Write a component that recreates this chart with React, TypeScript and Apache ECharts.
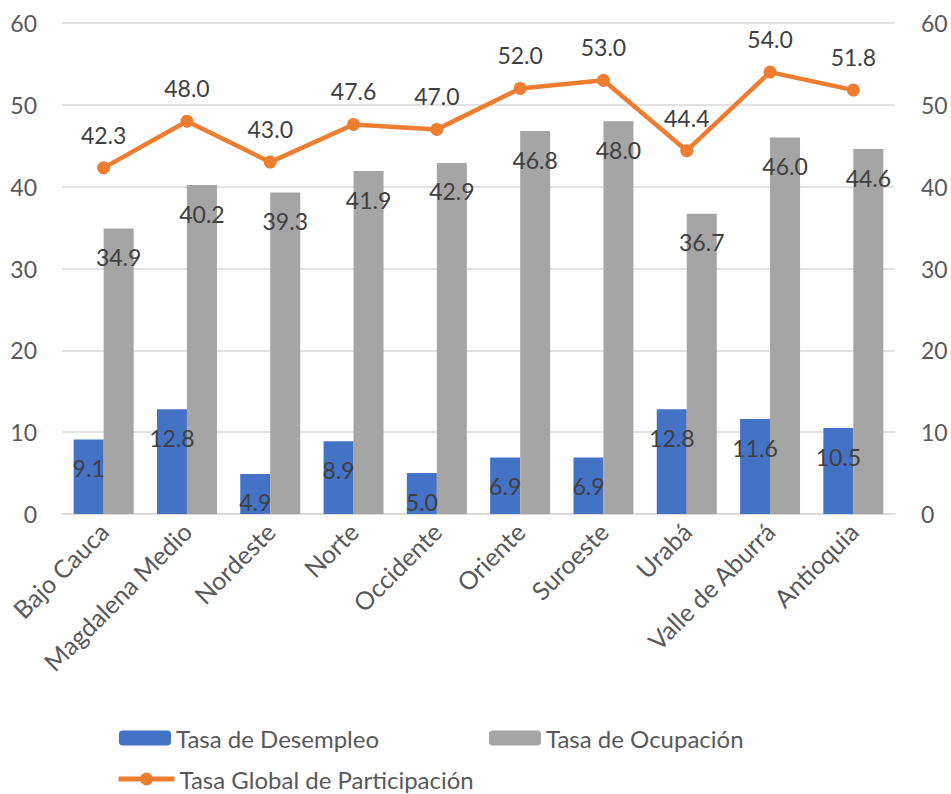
import React, { useEffect, useRef } from "react";
import * as echarts from "echarts";

const categories = ["Bajo Cauca", "Magdalena Medio", "Nordeste", "Norte", "Occidente", "Oriente", "Suroeste", "Urabá", "Valle de Aburrá", "Antioquia"];
const desempleo = [9.1, 12.8, 4.9, 8.9, 5.0, 6.9, 6.9, 12.8, 11.6, 10.5];
const ocupacion = [34.9, 40.2, 39.3, 41.9, 42.9, 46.8, 48.0, 36.7, 46.0, 44.6];
const participacion = [42.3, 48.0, 43.0, 47.6, 47.0, 52.0, 53.0, 44.4, 54.0, 51.8];
const seriesNames = ["Tasa de Desempleo", "Tasa de Ocupación", "Tasa Global de Participación"];

const FONT = "Lato, 'Liberation Sans', sans-serif";
const FS = 23;

export default function App() {
  const ref = useRef<HTMLDivElement>(null);
  useEffect(() => {
    if (!ref.current) return;
    const chart = echarts.init(ref.current, null, { renderer: "svg" });
    const labelStyle = {
      show: true,
      color: "#404040",
      fontSize: FS,
      fontFamily: FONT,
      formatter: (p: any) => Number(p.value).toFixed(1),
    };
    const legendText = { color: "#595959", fontSize: 24, fontFamily: FONT };
    chart.setOption({
      animation: false,
      textStyle: { fontFamily: FONT },
      grid: { left: 62, right: 56, top: 23, bottom: 280, containLabel: false },
      legend: [
        {
          data: [seriesNames[0]],
          left: 119,
          top: 726,
          padding: 0,
          itemWidth: 52,
          itemHeight: 15,
          textStyle: legendText,
        },
        {
          data: [seriesNames[1]],
          left: 489,
          top: 726,
          padding: 0,
          itemWidth: 52,
          itemHeight: 15,
          textStyle: legendText,
        },
        {
          data: [seriesNames[2]],
          left: 116,
          top: 767,
          padding: 0,
          itemWidth: 56,
          itemHeight: 16,
          lineStyle: { width: 5 },
          textStyle: legendText,
        },
      ],
      xAxis: {
        type: "category",
        data: categories,
        axisLine: { show: true, lineStyle: { color: "#d9d9d9", width: 1.5 } },
        axisTick: { show: false },
        axisLabel: {
          rotate: 45,
          color: "#595959",
          fontSize: 25,
          fontFamily: FONT,
          margin: 13,
          interval: 0,
        },
      },
      yAxis: [
        {
          type: "value",
          min: 0,
          max: 60,
          interval: 10,
          axisLine: { show: false },
          axisTick: { show: false },
          splitLine: { lineStyle: { color: "#d9d9d9", width: 1.5 } },
          axisLabel: { color: "#595959", fontSize: FS, fontFamily: FONT, margin: 25 },
        },
        {
          type: "value",
          min: 0,
          max: 60,
          interval: 10,
          position: "right",
          axisLine: { show: false },
          axisTick: { show: false },
          splitLine: { show: false },
          axisLabel: { color: "#595959", fontSize: FS, fontFamily: FONT, margin: 26 },
        },
      ],
      series: [
        {
          name: seriesNames[0],
          type: "bar",
          data: desempleo,
          barGap: "0%",
          barCategoryGap: "28%",
          itemStyle: { color: "#4472C4" },
          label: { ...labelStyle, position: "insideTop", distance: 17 },
        },
        {
          name: seriesNames[1],
          type: "bar",
          data: ocupacion,
          barGap: "0%",
          barCategoryGap: "28%",
          itemStyle: { color: "#A5A5A5" },
          label: { ...labelStyle, position: "insideTop", distance: 17 },
        },
        {
          name: seriesNames[2],
          type: "line",
          yAxisIndex: 1,
          data: participacion,
          symbol: "circle",
          symbolSize: 13,
          lineStyle: { color: "#ED7D31", width: 4.5 },
          itemStyle: { color: "#ED7D31" },
          label: { ...labelStyle, position: "top", distance: 15 },
        },
      ],
    });
    return () => chart.dispose();
  }, []);
  return <div ref={ref} style={{ width: 951, height: 794, position: "absolute", left: 0, top: 0 }} />;
}
